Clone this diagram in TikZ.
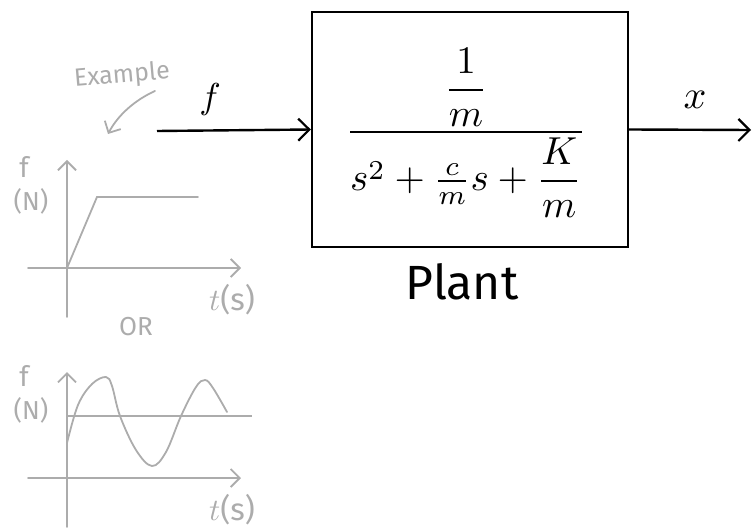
\documentclass[tikz,border=0pt]{standalone}
\usepackage{amsmath}
\usepackage{fontspec}
\setsansfont{Fira Sans}
\usetikzlibrary{arrows.meta}
\definecolor{pencil}{RGB}{172,172,172}
\tikzset{
  blk/.style={line width=2.4pt, black},
  grayline/.style={line width=1.8pt, pencil, line cap=round},
  barb/.style={-{Straight Barb[length=11pt,width=22pt,line width=2.2pt]}},
  gbarb/.style={-{Straight Barb[length=9pt,width=18pt,line width=1.8pt]}},
  glabel/.style={text=pencil, font=\sffamily\fontsize{26}{28}\selectfont, inner sep=0pt},
  gflab/.style={text=pencil, font=\sffamily\fontsize{28}{30}\selectfont, inner sep=0pt},
  gmath/.style={text=pencil, font=\sffamily, inner sep=0pt},
  blabel/.style={text=black, inner sep=0pt}
}
\begin{document}
\begin{tikzpicture}[x=1pt,y=-1pt]
\useasboundingbox (0,0) rectangle (753,532);
% plant box
\node[draw, blk, minimum width=316pt, minimum height=235pt, inner sep=0pt] (box) at (470,129.5) {};
\node[scale=3.9, inner sep=0pt] (tf) at (466,133) {$\dfrac{\dfrac{1}{m}}{s^{2}+\frac{c}{m}s+\dfrac{K}{m}}$};
\node[blabel, font=\sffamily\fontsize{48}{50}\selectfont] (plant) at (462,282) {Plant};
% input / output
\coordinate (fin) at (157,131);
\coordinate (xout) at (751,130);
\draw[blk, barb] (fin) -- (box.west);
\draw[blk, barb] (box.east) -- (xout);
\node[blabel, scale=3.6] (flab) at (210,100) {$f$};
\node[blabel, scale=4] (xlab) at (695,100) {$x$};
% example note
\node[glabel, font=\sffamily\fontsize{25}{27}\selectfont, rotate=5] (ex) at (122,76) {Example};
\coordinate (ea) at (155,91);
\coordinate (eb) at (108,134);
\draw[grayline, gbarb] (ea) .. controls (135,100) and (118,115) .. (eb);
% graph 1
\coordinate (o1) at (67,268);
\coordinate (y1) at (67,160);
\coordinate (y1b) at (67,317);
\coordinate (x1a) at (28,268);
\coordinate (x1) at (241,268);
\draw[grayline, gbarb] (y1b) -- (y1);
\draw[grayline, gbarb] (x1a) -- (x1);
\coordinate (r1) at (97,197);
\coordinate (r2) at (198,197);
\draw[grayline] (o1) -- (r1) -- (r2);
\node[gflab] (f1) at (24,167) {f};
\node[glabel] (n1) at (31,201) {(N)};
\node[gmath, scale=3.1] (t1) at (232,300) {$t$(s)};
\node[glabel] (or) at (136,327) {OR};
% graph 2
\coordinate (y2) at (67,372);
\coordinate (y2b) at (67,527);
\coordinate (x2a) at (28,478);
\coordinate (x2) at (241,478);
\coordinate (m2a) at (67,416);
\coordinate (m2b) at (252,416);
\draw[grayline, gbarb] (y2b) -- (y2);
\draw[grayline, gbarb] (x2a) -- (x2);
\draw[pencil, line width=1.3pt] (m2a) -- (m2b);
\draw[grayline] plot[smooth, tension=0.6] coordinates {(67,443) (78,405) (92,384) (106,377) (112,386) (120,416) (136,450) (152,466) (166,452) (181,416) (196,387) (205,380) (213,388) (227,412)};
\node[gflab] (f2) at (24,376) {f};
\node[glabel] (n2) at (31,410) {(N)};
\node[gmath, scale=3.1] (t2) at (232,510) {$t$(s)};
\end{tikzpicture}
\end{document}
